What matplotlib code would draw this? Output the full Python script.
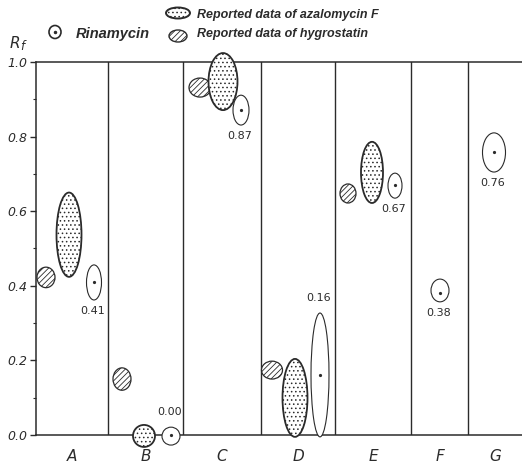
import matplotlib.pyplot as plt
from matplotlib.patches import Ellipse
from matplotlib.ticker import MultipleLocator

plt.rcParams['hatch.linewidth'] = 0.6
plt.rcParams['hatch.color'] = '#333333'

lanes = ['A', 'B', 'C', 'D', 'E', 'F', 'G']

# Rinamycin: Rf of the centre dot and the low / high Rf of each spot
rin_rf = [0.41, 0.00, 0.87, 0.16, 0.67, 0.38, 0.76]
rin_lo = [0.362, -0.027, 0.831, -0.005, 0.635, 0.357, 0.705]
rin_hi = [0.456, 0.021, 0.911, 0.327, 0.702, 0.418, 0.810]

# reported azalomycin F spots (lanes A-E)
aza_lo = [0.424, -0.032, 0.871, -0.005, 0.622]
aza_hi = [0.650, 0.027, 1.024, 0.204, 0.786]

# reported hygrostatin spots (lanes A-E)
hyg_lo = [0.395, 0.120, 0.906, 0.150, 0.622]
hyg_hi = [0.450, 0.180, 0.957, 0.198, 0.673]

# lane layout (x in pixels from the left axis)
edges = [0, 72, 147, 225, 299, 375, 432, 486]
rin_x = [58, 135, 205, 284, 359, 404, 458]
rin_w = [15, 18, 16, 18, 14, 18, 23]
aza_x = [33, 108, 187, 259, 336]
aza_w = [25, 22, 29, 25, 22]
hyg_x = [10, 86, 164, 236, 312]
hyg_w = [18, 18, 22, 21, 16]

ink = '#2b2b2b'
key_font = dict(family='Liberation Sans', style='italic', weight='bold', color=ink,
                va='center')
W, H = 522, 465

fig = plt.figure(figsize=(W / 100, H / 100), dpi=100)
ax = fig.add_axes([36 / W, 30 / H, (W - 36) / W, 373 / H])
ax.set_xlim(0, edges[-1])
ax.set_ylim(0, 1)

for s in ['left', 'top', 'bottom']:
    ax.spines[s].set_color(ink)
    ax.spines[s].set_linewidth(1.1)
ax.spines['right'].set_visible(False)

for e in edges[1:-1]:
    ax.axvline(e, color=ink, lw=1.0, zorder=1)

# hygrostatin: hatched
for x, w, lo, hi in zip(hyg_x, hyg_w, hyg_lo, hyg_hi):
    ax.add_patch(Ellipse((x, (lo + hi) / 2), w, hi - lo, facecolor='white',
                         edgecolor=ink, lw=0.9, hatch='//////', clip_on=False, zorder=3))

# azalomycin F: dotted
for x, w, lo, hi in zip(aza_x, aza_w, aza_lo, aza_hi):
    ax.add_patch(Ellipse((x, (lo + hi) / 2), w, hi - lo, facecolor='white',
                         edgecolor=ink, lw=1.3, hatch='....', clip_on=False, zorder=3))

# rinamycin: open spot with centre dot and Rf value
for i, (x, w, lo, hi, rf) in enumerate(zip(rin_x, rin_w, rin_lo, rin_hi, rin_rf)):
    ax.add_patch(Ellipse((x, (lo + hi) / 2), w, hi - lo, facecolor='white',
                         edgecolor=ink, lw=0.8, clip_on=False, zorder=3))
    ax.plot(x, rf, 'o', ms=1.3, color=ink, zorder=4, clip_on=False)
    if lanes[i] in ('B', 'D'):
        ty = hi + 0.04
    else:
        ty = lo - 0.03
    ax.text(x - 1, ty, f'{rf:.2f}', ha='center', va='center', fontsize=8,
            color=ink, zorder=5)

centers = [(a + b) / 2 for a, b in zip(edges[:-1], edges[1:])]
ax.set_xticks(centers)
ax.set_xticklabels(lanes, fontsize=11, style='oblique', color=ink)
ax.tick_params(axis='x', length=0, pad=10)

ax.yaxis.set_major_locator(MultipleLocator(0.2))
ax.yaxis.set_minor_locator(MultipleLocator(0.1))
ax.set_yticklabels([f'{v:.1f}' for v in ax.get_yticks()], fontsize=9,
                   style='oblique', color=ink)
ax.tick_params(axis='y', which='major', length=4, width=1, color=ink, pad=2)
ax.tick_params(axis='y', which='minor', length=2, width=0.8, color=ink)

# header: Rf label and key
lax = fig.add_axes([0, 0, 1, 1])
lax.set_xlim(0, W)
lax.set_ylim(H, 0)
lax.axis('off')

lax.text(10, 43, 'R', fontsize=11, style='oblique', color=ink, va='center')
lax.text(20, 46, 'f', fontsize=8.5, style='oblique', color=ink, va='center')

lax.add_patch(Ellipse((55, 32), 12, 13, facecolor='white', edgecolor=ink, lw=1.2))
lax.plot(55, 32, 'o', ms=1.5, color=ink)
lax.text(76, 34, 'Rinamycin', fontsize=10.5, **key_font)

lax.add_patch(Ellipse((178, 13), 24, 11, facecolor='white', edgecolor=ink,
                      lw=1.4, hatch='....'))
lax.text(197, 15, 'Reported data of azalomycin F', fontsize=9, **key_font)
lax.add_patch(Ellipse((178, 36), 18, 12, facecolor='white', edgecolor=ink,
                      lw=1.0, hatch='//////'))
lax.text(197, 34, 'Reported data of hygrostatin', fontsize=9, **key_font)

fig.savefig('out.png', dpi=100)
